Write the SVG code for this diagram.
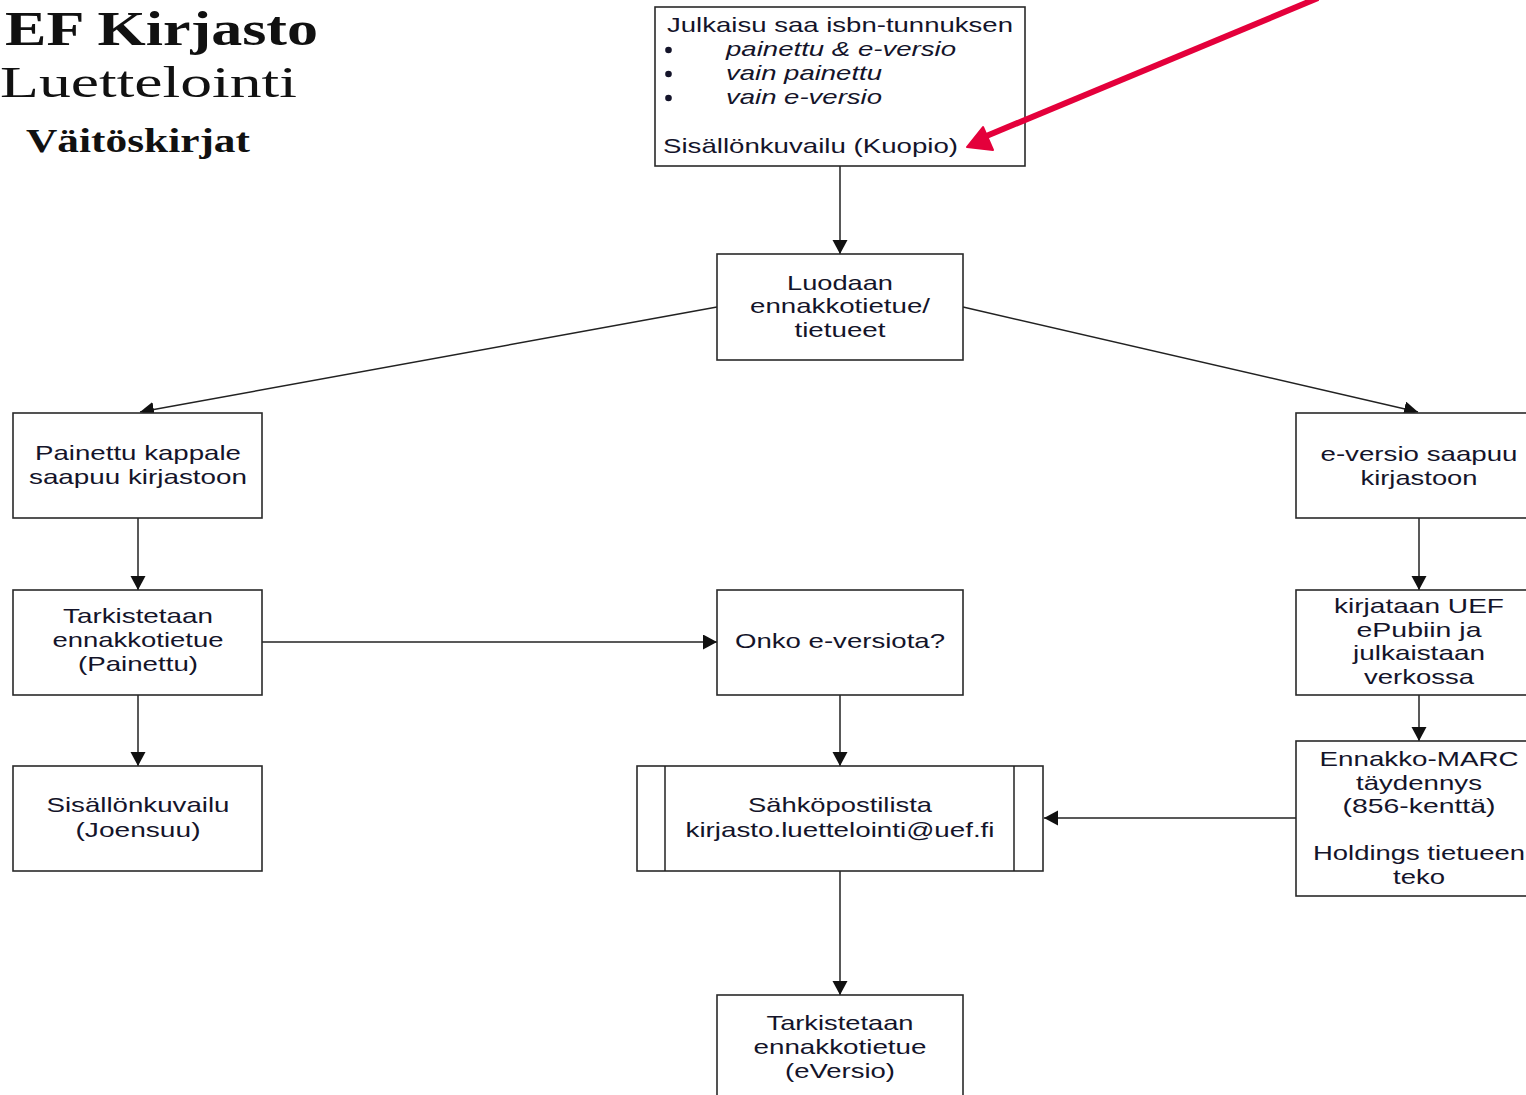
<svg xmlns="http://www.w3.org/2000/svg" width="1526" height="1095" viewBox="0 0 1526 1095">
<style>
.box{fill:#fff;stroke:#2a2a2a;stroke-width:1.6}
.t{font-family:"Liberation Sans",Arial,sans-serif;font-size:21px;fill:#14142a;text-anchor:middle}
.l{text-anchor:start}
.i{font-style:italic}
.bul{fill:#14142a}
.ttl{font-family:"Liberation Serif","Times New Roman",serif;fill:#111}
.c{fill:none;stroke:#222;stroke-width:1.5}
</style>
<defs>
<marker id="ah" markerUnits="userSpaceOnUse" markerWidth="16" markerHeight="16" refX="14" refY="7.5" orient="auto">
<path d="M0,0 L14,7.5 L0,15 z" fill="#111"/>
</marker>
</defs>
<rect width="1526" height="1095" fill="#fff"/>

<g id="title">
<text class="ttl" x="5" y="45" font-size="48" font-weight="bold" textLength="313" lengthAdjust="spacingAndGlyphs">EF Kirjasto</text>
<text class="ttl" x="0" y="97" font-size="45" textLength="297" lengthAdjust="spacingAndGlyphs">Luettelointi</text>
<text class="ttl" x="26" y="152" font-size="33" font-weight="bold" textLength="224" lengthAdjust="spacingAndGlyphs">Väitöskirjat</text>
</g>

<g id="connectors">
<line class="c" x1="840" y1="166" x2="840" y2="254" marker-end="url(#ah)"/>
<line class="c" x1="717" y1="307" x2="140" y2="412" marker-end="url(#ah)"/>
<line class="c" x1="963" y1="307" x2="1418" y2="412" marker-end="url(#ah)"/>
<line class="c" x1="138" y1="518" x2="138" y2="590" marker-end="url(#ah)"/>
<line class="c" x1="138" y1="695" x2="138" y2="766" marker-end="url(#ah)"/>
<line class="c" x1="262" y1="642" x2="717" y2="642" marker-end="url(#ah)"/>
<line class="c" x1="1419" y1="518" x2="1419" y2="590" marker-end="url(#ah)"/>
<line class="c" x1="1419" y1="695" x2="1419" y2="741" marker-end="url(#ah)"/>
<line class="c" x1="840" y1="695" x2="840" y2="766" marker-end="url(#ah)"/>
<line class="c" x1="1296" y1="818" x2="1044" y2="818" marker-end="url(#ah)"/>
<line class="c" x1="840" y1="871" x2="840" y2="995" marker-end="url(#ah)"/>
</g>

<g id="n-isbn">
<rect class="box" x="655" y="7" width="370" height="159"/>
<text class="t l" x="667" y="32" textLength="346" lengthAdjust="spacingAndGlyphs">Julkaisu saa isbn-tunnuksen</text>
<circle class="bul" cx="668.5" cy="50" r="3.3"/>
<circle class="bul" cx="668.5" cy="74" r="3.3"/>
<circle class="bul" cx="668.5" cy="98" r="3.3"/>
<text class="t l i" x="726" y="56" textLength="230" lengthAdjust="spacingAndGlyphs">painettu &amp; e-versio</text>
<text class="t l i" x="726" y="80" textLength="156" lengthAdjust="spacingAndGlyphs">vain painettu</text>
<text class="t l i" x="726" y="104" textLength="156" lengthAdjust="spacingAndGlyphs">vain e-versio</text>
<text class="t l" x="663" y="153" textLength="295" lengthAdjust="spacingAndGlyphs">Sisällönkuvailu (Kuopio)</text>
</g>

<g id="red-arrow">
<line x1="1318" y1="-2" x2="984" y2="137" stroke="#e4003b" stroke-width="6"/>
<path d="M967,147 L983,127 L993,150 z" fill="#e4003b" stroke="#e4003b" stroke-width="2" stroke-linejoin="round"/>
</g>

<g id="n-luodaan">
<rect class="box" x="717" y="254" width="246" height="106"/>
<text class="t" x="840" y="290" textLength="106" lengthAdjust="spacingAndGlyphs">Luodaan</text>
<text class="t" x="840" y="313" textLength="180" lengthAdjust="spacingAndGlyphs">ennakkotietue/</text>
<text class="t" x="840" y="337" textLength="91" lengthAdjust="spacingAndGlyphs">tietueet</text>
</g>

<g id="n-painettu">
<rect class="box" x="13" y="413" width="249" height="105"/>
<text class="t" x="138" y="460" textLength="206" lengthAdjust="spacingAndGlyphs">Painettu kappale</text>
<text class="t" x="138" y="484" textLength="218" lengthAdjust="spacingAndGlyphs">saapuu kirjastoon</text>
</g>

<g id="n-eversio">
<rect class="box" x="1296" y="413" width="246" height="105"/>
<text class="t" x="1419" y="461" textLength="197" lengthAdjust="spacingAndGlyphs">e-versio saapuu</text>
<text class="t" x="1419" y="485" textLength="117" lengthAdjust="spacingAndGlyphs">kirjastoon</text>
</g>

<g id="n-tark-painettu">
<rect class="box" x="13" y="590" width="249" height="105"/>
<text class="t" x="138" y="623" textLength="150" lengthAdjust="spacingAndGlyphs">Tarkistetaan</text>
<text class="t" x="138" y="647" textLength="171" lengthAdjust="spacingAndGlyphs">ennakkotietue</text>
<text class="t" x="138" y="671" textLength="120" lengthAdjust="spacingAndGlyphs">(Painettu)</text>
</g>

<g id="n-onko">
<rect class="box" x="717" y="590" width="246" height="105"/>
<text class="t" x="840" y="648" textLength="210" lengthAdjust="spacingAndGlyphs">Onko e-versiota?</text>
</g>

<g id="n-kirjataan">
<rect class="box" x="1296" y="590" width="246" height="105"/>
<text class="t" x="1419" y="613" textLength="170" lengthAdjust="spacingAndGlyphs">kirjataan UEF</text>
<text class="t" x="1419" y="637" textLength="125" lengthAdjust="spacingAndGlyphs">ePubiin ja</text>
<text class="t" x="1419" y="660" textLength="132" lengthAdjust="spacingAndGlyphs">julkaistaan</text>
<text class="t" x="1419" y="684" textLength="110" lengthAdjust="spacingAndGlyphs">verkossa</text>
</g>

<g id="n-joensuu">
<rect class="box" x="13" y="766" width="249" height="105"/>
<text class="t" x="138" y="812" textLength="183" lengthAdjust="spacingAndGlyphs">Sisällönkuvailu</text>
<text class="t" x="138" y="837" textLength="125" lengthAdjust="spacingAndGlyphs">(Joensuu)</text>
</g>

<g id="n-sahkoposti">
<rect class="box" x="637" y="766" width="406" height="105"/>
<line class="c" x1="665" y1="766" x2="665" y2="871"/>
<line class="c" x1="1014" y1="766" x2="1014" y2="871"/>
<text class="t" x="840" y="812" textLength="184" lengthAdjust="spacingAndGlyphs">Sähköpostilista</text>
<text class="t" x="840" y="837" textLength="309" lengthAdjust="spacingAndGlyphs">kirjasto.luettelointi@uef.fi</text>
</g>

<g id="n-marc">
<rect class="box" x="1296" y="741" width="246" height="155"/>
<text class="t" x="1419" y="766" textLength="199" lengthAdjust="spacingAndGlyphs">Ennakko-MARC</text>
<text class="t" x="1419" y="790" textLength="126" lengthAdjust="spacingAndGlyphs">täydennys</text>
<text class="t" x="1419" y="813" textLength="153" lengthAdjust="spacingAndGlyphs">(856-kenttä)</text>
<text class="t" x="1419" y="860" textLength="212" lengthAdjust="spacingAndGlyphs">Holdings tietueen</text>
<text class="t" x="1419" y="884" textLength="52" lengthAdjust="spacingAndGlyphs">teko</text>
</g>

<g id="n-tark-eversio">
<rect class="box" x="717" y="995" width="246" height="110"/>
<text class="t" x="840" y="1030" textLength="147" lengthAdjust="spacingAndGlyphs">Tarkistetaan</text>
<text class="t" x="840" y="1054" textLength="173" lengthAdjust="spacingAndGlyphs">ennakkotietue</text>
<text class="t" x="840" y="1078" textLength="110" lengthAdjust="spacingAndGlyphs">(eVersio)</text>
</g>
</svg>
